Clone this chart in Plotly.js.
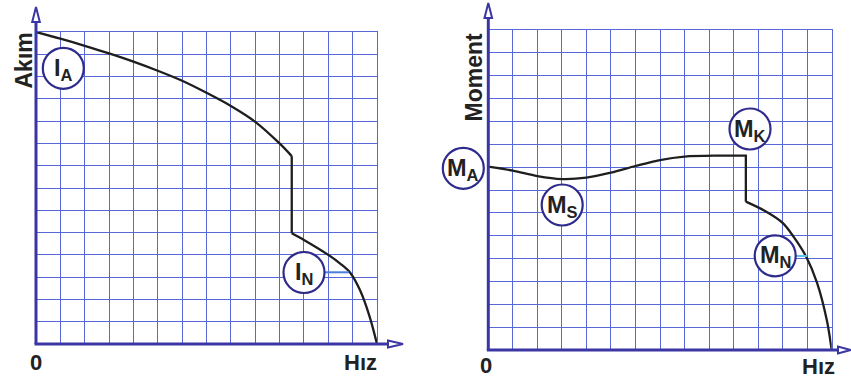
<!DOCTYPE html>
<html>
<head>
<meta charset="utf-8">
<script src="https://cdn.plot.ly/plotly-3.0.1.min.js"></script>
<style>html,body{margin:0;padding:0;background:#fff;}#chart{width:851px;height:381px;}</style>
</head>
<body>
<div id="chart"></div>
<script>
// ---- Data (grid units, 0..14 on both axes) ----
const gridTicks = [0,1,2,3,4,5,6,7,8,9,10,11,12,13,14];

// Left chart: Akım (current) vs Hız (speed)
const currentSpeedUpper = [0, 1, 2, 3, 4, 5, 6, 7, 8, 9, 10, 10.5];
const currentUpper      = [14, 13.7, 13.38, 13.04, 12.67, 12.26, 11.81, 11.27, 10.68, 9.97, 9.0, 8.43];
const currentSpeedStep  = [10.5, 10.5];
const currentStep       = [8.43, 4.97];
const currentSpeedLower = [10.5, 11, 12, 12.5, 12.9, 13.3, 13.7, 14];
const currentLower      = [4.97, 4.67, 4.0, 3.6, 3.2, 2.42, 1.22, 0];

// Right chart: Moment (torque) vs Hız (speed)
const torqueSpeedUpper = [0, 1, 2, 3, 4, 5, 6, 7, 8, 9.2];
const torqueUpper      = [8.02, 7.85, 7.61, 7.48, 7.54, 7.76, 8.05, 8.31, 8.46, 8.5];
const torqueSpeedStep  = [9.2, 10.5, 10.5];
const torqueStep       = [8.5, 8.5, 6.49];
const torqueSpeedLower = [10.5, 11.3, 12.0, 12.45, 12.95, 13.4, 13.8, 14];
const torqueLower      = [6.49, 6.07, 5.56, 4.95, 4.1, 2.95, 1.31, 0];

// Text labels
const leftYTitle = 'Akım';
const rightYTitle = 'Moment';
const xTitle = 'Hız';
const originLabel = '0';
const leftLabels = ['I<sub>A</sub>', 'I<sub>N</sub>'];
const rightLabels = ['M<sub>A</sub>', 'M<sub>S</sub>', 'M<sub>K</sub>', 'M<sub>N</sub>'];

// ---- Layout helpers (pixel -> paper) ----
const W = 851, H = 381;
const px = v => v / W;
const py = v => 1 - v / H;

const gridColor = '#5868d8';
const axisColor = '#3a36a3';
const curveColor = '#1e1e1e';
const circleColor = '#2f2b8c';
const textColor = '#222222';
const fontFam = 'Liberation Sans, Arial, Helvetica, sans-serif';

// plot areas in pixels
const L = {x0: 36, x1: 377, yTop: 32, yBot: 344};
const R = {x0: 488.3, x1: 831.7, yTop: 30, yBot: 350};

function axisX(dom, anchor){
  return {domain: dom, range: [0,14], tickvals: gridTicks, showticklabels: false, ticks: '',
    showgrid: true, gridcolor: gridColor, gridwidth: 1, zeroline: false,
    showline: true, mirror: true, linecolor: gridColor, linewidth: 1, anchor: anchor, fixedrange: true};
}
function axisY(dom, anchor){
  return {domain: dom, range: [0,14], tickvals: gridTicks, showticklabels: false, ticks: '',
    showgrid: true, gridcolor: gridColor, gridwidth: 1, zeroline: false,
    showline: true, mirror: true, linecolor: gridColor, linewidth: 1, anchor: anchor, fixedrange: true};
}

function line(x, y, xa, ya, shape){
  return {x: x, y: y, xaxis: xa, yaxis: ya, type: 'scatter', mode: 'lines', hoverinfo: 'skip',
    line: {color: curveColor, width: 2.3, shape: shape, smoothing: 0.9}};
}

const traces = [
  line(currentSpeedUpper, currentUpper, 'x', 'y', 'spline'),
  line(currentSpeedStep, currentStep, 'x', 'y', 'linear'),
  line(currentSpeedLower, currentLower, 'x', 'y', 'spline'),
  line(torqueSpeedUpper, torqueUpper, 'x2', 'y2', 'spline'),
  line(torqueSpeedStep, torqueStep, 'x2', 'y2', 'linear'),
  line(torqueSpeedLower, torqueLower, 'x2', 'y2', 'spline'),
];

const shapes = [];
function seg(x0,y0,x1,y1,color,width){
  shapes.push({type:'line', xref:'paper', yref:'paper', x0:px(x0), y0:py(y0), x1:px(x1), y1:py(y1),
    line:{color:color, width:width}, layer:'above'});
}
function tri(points){
  const d = 'M ' + points.map(p => px(p[0]) + ',' + py(p[1])).join(' L ') + ' Z';
  shapes.push({type:'path', xref:'paper', yref:'paper', path:d, fillcolor:'#ffffff',
    line:{color:axisColor, width:2}, layer:'above'});
}
function circle(cx, cy, r){
  shapes.push({type:'circle', xref:'paper', yref:'paper', x0:px(cx-r), x1:px(cx+r), y0:py(cy+r), y1:py(cy-r),
    fillcolor:'#ffffff', line:{color:circleColor, width:2.2}, layer:'above'});
}

// connector lines
seg(325, 272.3, 349, 272.3, '#4a7fdc', 2);
seg(796, 256, 807, 256, '#5cc4ee', 2);

// axes with open arrowheads
seg(L.x0, L.yBot, L.x0, 22, axisColor, 3);
seg(L.x0-1.5, L.yBot, 388, L.yBot, axisColor, 3);
tri([[L.x0, 7], [L.x0-3.8, 22], [L.x0+3.8, 22]]);
tri([[403, L.yBot], [388, L.yBot-3.5], [388, L.yBot+3.5]]);

seg(R.x0, R.yBot, R.x0, 18, axisColor, 3);
seg(R.x0-1.5, R.yBot, 838, R.yBot, axisColor, 3);
tri([[R.x0, 3], [R.x0-3.8, 18], [R.x0+3.8, 18]]);
tri([[850.5, R.yBot], [838, R.yBot-3.5], [838, R.yBot+3.5]]);

// label circles
const rad = 20.5;
const leftCenters = [[63.3, 68.3], [304, 272.5]];
const rightCenters = [[463.3, 168.3], [562.2, 205], [750, 129], [775.2, 255.8]];
leftCenters.forEach(c => circle(c[0], c[1], rad));
rightCenters.forEach(c => circle(c[0], c[1], rad));

const annotations = [];
function txt(text, x, y, size, angle){
  annotations.push({text: text, xref:'paper', yref:'paper', x:px(x), y:py(y), xanchor:'center', yanchor:'middle',
    showarrow:false, textangle: angle || 0,
    font:{family:fontFam, size:size, color:textColor, weight:'bold'}});
}
leftLabels.forEach((t,i) => txt(t, leftCenters[i][0], leftCenters[i][1]+1, 23.5));
rightLabels.forEach((t,i) => txt(t, rightCenters[i][0], rightCenters[i][1]+1, 23.5));

txt(leftYTitle, 23.5, 61, 23, -90);
txt(rightYTitle, 473.5, 77, 23, -90);
txt(originLabel, 36, 362.5, 22);
txt(xTitle, 360.5, 362.5, 22);
txt(originLabel, 486, 365.5, 22);
txt(xTitle, 818.3, 366.5, 22);

const layout = {
  width: W, height: H,
  margin: {l:0, r:0, t:0, b:0, pad:0},
  paper_bgcolor: '#ffffff', plot_bgcolor: '#ffffff',
  showlegend: false,
  xaxis: axisX([px(L.x0), px(L.x1)], 'y'),
  yaxis: axisY([py(L.yBot), py(L.yTop)], 'x'),
  xaxis2: axisX([px(R.x0), px(R.x1)], 'y2'),
  yaxis2: axisY([py(R.yBot), py(R.yTop)], 'x2'),
  shapes: shapes,
  annotations: annotations,
};

Plotly.newPlot('chart', traces, layout, {staticPlot: true, displayModeBar: false});
</script>
</body>
</html>
